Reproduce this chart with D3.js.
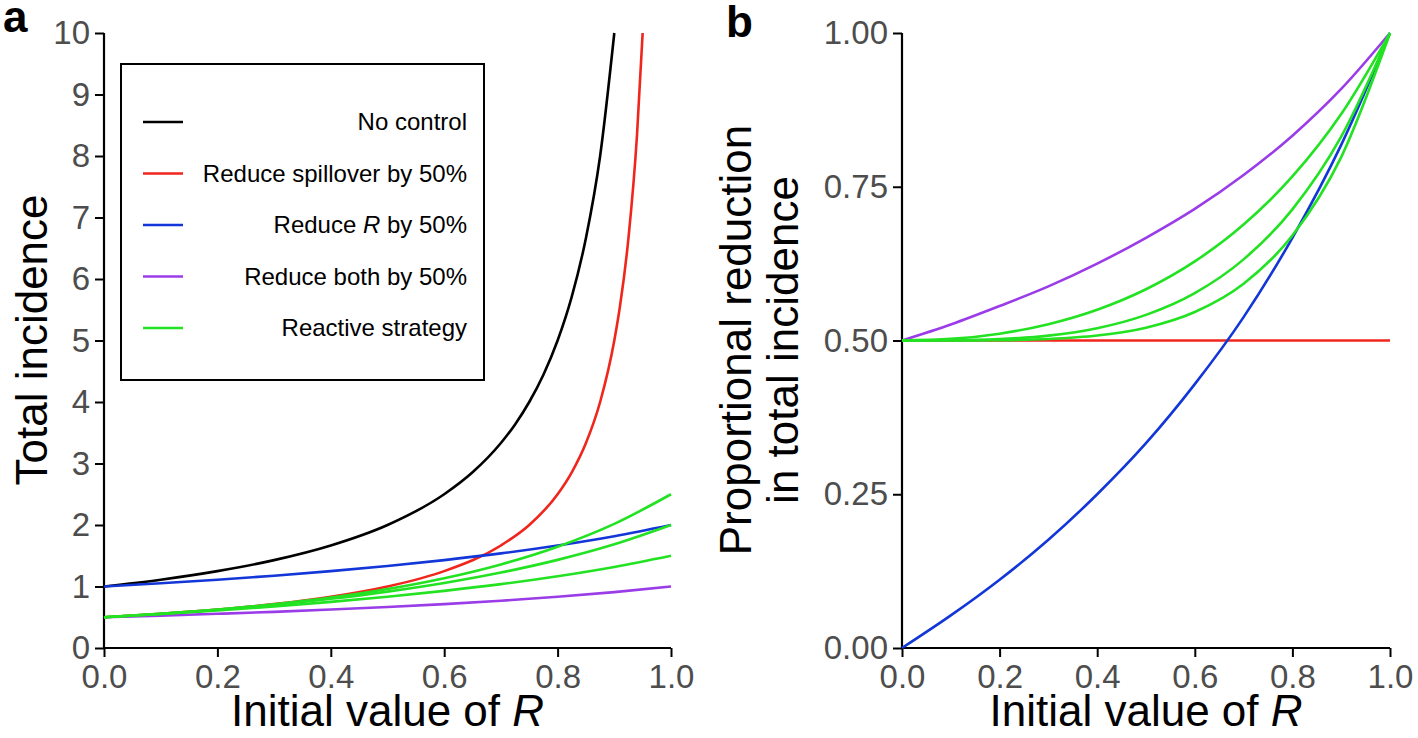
<!DOCTYPE html>
<html>
<head>
<meta charset="utf-8">
<script src="https://cdn.jsdelivr.net/npm/d3@7"></script>
<style>
  body { margin: 0; background: #fff; }
  svg { display: block; font-family: "Liberation Sans", Arial, sans-serif; }
</style>
</head>
<body>
<svg id="chart" width="1418" height="738"></svg>
<script>
// values, initial R on the x axis
let rGrid = [0, 0.1, 0.2, 0.3, 0.4, 0.5, 0.6, 0.7, 0.8, 0.9, 1.0]
// steep curves need more points near the top
let rNoControl = [0, 0.1, 0.2, 0.3, 0.4, 0.5, 0.6, 0.65, 0.7, 0.725, 0.75, 0.775, 0.8, 0.825, 0.85, 0.875, 0.9]
let noControl = [1.0, 1.111, 1.25, 1.429, 1.667, 2.0, 2.5, 2.857, 3.333, 3.636, 4.0, 4.444, 5.0, 5.714, 6.667, 8.0, 10.0]
let rSpill = [0, 0.1, 0.2, 0.3, 0.4, 0.5, 0.6, 0.7, 0.75, 0.8, 0.825, 0.85, 0.875, 0.9, 0.91, 0.925, 0.94, 0.95]
let spillHalf = [0.5, 0.556, 0.625, 0.714, 0.833, 1.0, 1.25, 1.667, 2.0, 2.5, 2.857, 3.333, 4.0, 5.0, 5.556, 6.667, 8.333, 10.0]
let rHalf = [1.0, 1.053, 1.111, 1.176, 1.25, 1.333, 1.429, 1.538, 1.667, 1.818, 2.0]
let bothHalf = [0.5, 0.526, 0.556, 0.588, 0.625, 0.667, 0.714, 0.769, 0.833, 0.909, 1.0]
let reactive = [
    [0.5, 0.556, 0.624, 0.711, 0.82, 0.958, 1.134, 1.359, 1.647, 2.018, 2.5],
    [0.5, 0.555, 0.622, 0.703, 0.8, 0.917, 1.057, 1.227, 1.433, 1.686, 2.0],
    [0.5, 0.553, 0.611, 0.676, 0.75, 0.833, 0.929, 1.038, 1.167, 1.318, 1.5]
]
// panel b: proportional reduction in total incidence
let redSpill = [0.5, 0.5, 0.5, 0.5, 0.5, 0.5, 0.5, 0.5, 0.5, 0.5, 0.5]
let redR = [0, 0.053, 0.111, 0.176, 0.25, 0.333, 0.429, 0.538, 0.667, 0.818, 1.0]
let redBoth = [0.5, 0.526, 0.556, 0.588, 0.625, 0.667, 0.714, 0.769, 0.833, 0.909, 1.0]
let redReactive = [
    [0.5, 0.5, 0.5004, 0.5024, 0.508, 0.5208, 0.5463, 0.5923, 0.6707, 0.7982, 1.0],
    [0.5, 0.5003, 0.5022, 0.5079, 0.52, 0.5417, 0.5771, 0.6319, 0.7133, 0.8314, 1.0],
    [0.5, 0.5026, 0.5111, 0.5265, 0.55, 0.5833, 0.6286, 0.6885, 0.7667, 0.8682, 1.0]
]
let xTicks = [0, 0.2, 0.4, 0.6, 0.8, 1.0]
let yTicksA = [0, 1, 2, 3, 4, 5, 6, 7, 8, 9, 10]
let yTicksB = [0, 0.25, 0.5, 0.75, 1.0]
let legendNames = ["No control", "Reduce spillover by 50%", "Reduce R by 50%", "Reduce both by 50%", "Reactive strategy"]

let colors = {black: "#000000", red: "#f0261c", blue: "#1236d8", purple: "#9a3ce8", green: "#22e222"}
let legendColors = [colors.black, colors.red, colors.blue, colors.purple, colors.green]

let svg = d3.select("#chart")
let tickFont = 33
let titleFont = 44

// draws axes for one panel, returns the scales
let makePanel = (x0, x1, yDomain, yTicks, yFmt) => {
    let x = d3.scaleLinear().domain([0, 1]).range([x0, x1])
    let y = d3.scaleLinear().domain(yDomain).range([648, 33])
    let g = svg.append("g")
    let xa = g.append("g").attr("transform", "translate(0,648)")
        .call(d3.axisBottom(x).tickValues(xTicks).tickFormat(d3.format(".1f")).tickSize(9).tickPadding(6))
    let ya = g.append("g").attr("transform", `translate(${x0},0)`)
        .call(d3.axisLeft(y).tickValues(yTicks).tickFormat(yFmt).tickSize(9).tickPadding(5))
    ;[xa, ya].forEach(a => {
        a.select(".domain").attr("stroke", "#000").attr("stroke-width", 2.2)
            .attr("d", a === xa ? `M${x0},0H${x1}` : `M0,648V33`)
        a.selectAll(".tick line").attr("stroke", "#000").attr("stroke-width", 2)
        a.selectAll(".tick text").attr("fill", "#4d4d4d").style("font-size", tickFont + "px")
            .style("font-family", "Liberation Sans, Arial, sans-serif")
    })
    xa.selectAll(".tick text").attr("dy", "0.76em")
    return {x, y, g}
}

let drawLine = (p, xs, ys, color) => {
    let line = d3.line().x((d, i) => p.x(xs[i])).y(d => p.y(d)).curve(d3.curveMonotoneX)
    p.g.append("path").datum(ys).attr("d", line)
        .attr("fill", "none").attr("stroke", color).attr("stroke-width", 2.6)
}

// panel a
let pa = makePanel(104, 671, [0, 10], yTicksA, d3.format("d"))
drawLine(pa, rNoControl, noControl, colors.black)
drawLine(pa, rSpill, spillHalf, colors.red)
drawLine(pa, rGrid, rHalf, colors.blue)
drawLine(pa, rGrid, bothHalf, colors.purple)
reactive.forEach(s => drawLine(pa, rGrid, s, colors.green))

// panel b
let pb = makePanel(902, 1390, [0, 1], yTicksB, d3.format(".2f"))
drawLine(pb, rGrid, redSpill, colors.red)
drawLine(pb, rGrid, redR, colors.blue)
drawLine(pb, rGrid, redBoth, colors.purple)
redReactive.forEach(s => drawLine(pb, rGrid, s, colors.green))

// legend
let leg = svg.append("g")
leg.append("rect").attr("x", 121).attr("y", 64).attr("width", 363).attr("height", 316)
    .attr("fill", "#fff").attr("stroke", "#000").attr("stroke-width", 2)
let rowY = d3.scalePoint().domain(legendNames).range([122, 328])
legendNames.forEach((name, i) => {
    let yy = rowY(name)
    leg.append("line").attr("x1", 143).attr("x2", 183).attr("y1", yy).attr("y2", yy)
        .attr("stroke", legendColors[i]).attr("stroke-width", 2.6)
    let t = leg.append("text").attr("x", 467).attr("y", yy).attr("dy", "0.35em")
        .attr("text-anchor", "end").style("font-size", "24px").attr("fill", "#000")
    if (name.includes(" R ")) {
        let parts = name.split(" R ")
        t.append("tspan").text(parts[0] + " ")
        t.append("tspan").style("font-style", "italic").text("R")
        t.append("tspan").text(" " + parts[1])
    } else {
        t.text(name)
    }
})

// axis titles
let xTitle = (cx) => {
    let t = svg.append("text").attr("x", cx).attr("y", 726).attr("text-anchor", "middle")
        .style("font-size", titleFont + "px").attr("fill", "#000")
    t.append("tspan").text("Initial value of ")
    t.append("tspan").style("font-style", "italic").text("R")
}
xTitle((104 + 671) / 2)
xTitle((902 + 1390) / 2)

svg.append("text").attr("transform", "translate(47,340) rotate(-90)").attr("text-anchor", "middle")
    .style("font-size", titleFont + "px").attr("fill", "#000").text("Total incidence")
svg.append("text").attr("transform", "translate(751,340) rotate(-90)").attr("text-anchor", "middle")
    .style("font-size", titleFont + "px").attr("fill", "#000").text("Proportional reduction")
svg.append("text").attr("transform", "translate(798,340) rotate(-90)").attr("text-anchor", "middle")
    .style("font-size", titleFont + "px").attr("fill", "#000").text("in total incidence")

// panel letters
svg.append("text").attr("x", 3).attr("y", 32).style("font-size", "44px").style("font-weight", "bold").text("a")
svg.append("text").attr("x", 726).attr("y", 37).style("font-size", "44px").style("font-weight", "bold").text("b")
</script>
</body>
</html>
